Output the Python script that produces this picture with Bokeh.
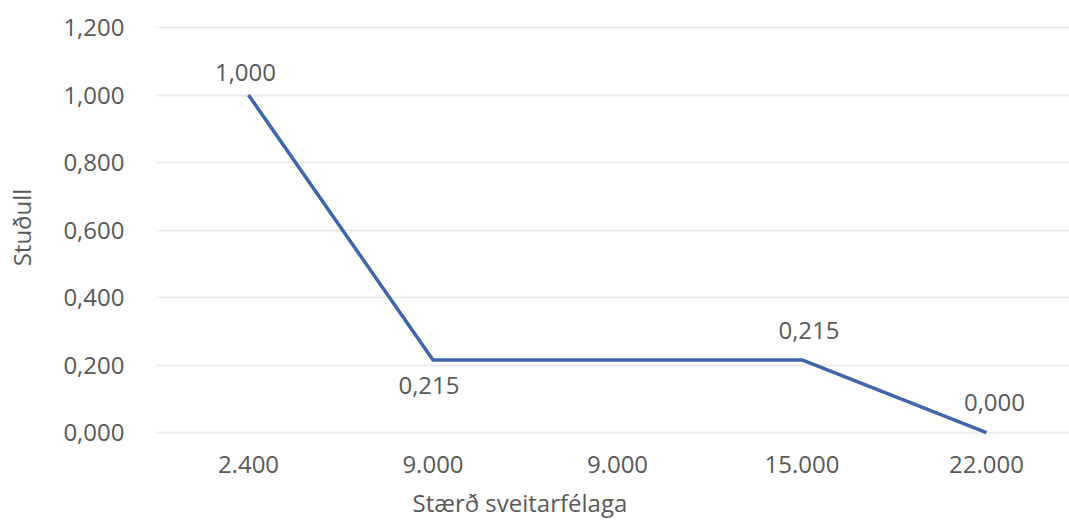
from bokeh.plotting import figure
from bokeh.models import Range1d, FixedTicker, ColumnDataSource, Title
from bokeh.core.properties import value
from bokeh.embed import file_html
from bokeh.resources import INLINE

# ---- data ----
categories = ["2.400", "9.000", "9.000", "15.000", "22.000"]
studull = [1.000, 0.215, 0.215, 0.215, 0.000]
label_text = ["1,000", "0,215", "", "0,215", "0,000"]
y_ticks = [0.0, 0.2, 0.4, 0.6, 0.8, 1.0, 1.2]
y_tick_labels = ["0,000", "0,200", "0,400", "0,600", "0,800", "1,000", "1,200"]
x_title = "Stærð sveitarfélaga"
y_title = "Stuðull"

# label pixel offsets (style)
lab_dx = [-3, -4, 0, 7, 8]
lab_dy = [-23, 26, 0, -29, -30]

FONT = "Open Sans"
FS = "24px"
TXT = "#595959"

xs = list(range(len(categories)))

p = figure(width=1069, height=527, output_backend="svg", toolbar_location=None,
           x_range=Range1d(-0.4986, 4.45), y_range=Range1d(-0.0207, 1.2356),
           min_border_left=156, min_border_right=0, min_border_top=15, min_border_bottom=88)
p.outline_line_color = None
p.background_fill_color = "white"
p.border_fill_color = "white"

p.line(xs, studull, line_color="#3F65AA", line_width=3.5, line_join="round")

src = ColumnDataSource(dict(x=xs, y=studull, t=label_text, dx=lab_dx, dy=lab_dy))
p.text(x="x", y="y", text="t", x_offset="dx", y_offset="dy", source=src,
       text_font=value(FONT), text_font_size=FS, text_color=TXT,
       text_align="center", text_baseline="middle")

# x axis
p.xaxis.ticker = FixedTicker(ticks=xs)
p.xaxis.major_label_overrides = {i: c for i, c in zip(xs, categories)}
p.xaxis.axis_line_color = None
p.xaxis.major_tick_line_color = None
p.xaxis.minor_tick_line_color = None
p.xaxis.major_label_text_font = FONT
p.xaxis.major_label_text_font_size = FS
p.xaxis.major_label_text_color = TXT
p.xaxis.major_label_standoff = 10

# x axis title below tick labels
p.add_layout(Title(text=x_title, align="left", offset=256, standoff=17,
                   text_font=FONT, text_font_size=FS, text_font_style="normal",
                   text_color=TXT), "below")

# y axis
p.yaxis.ticker = FixedTicker(ticks=y_ticks)
p.yaxis.major_label_overrides = {t: l for t, l in zip(y_ticks, y_tick_labels)}
p.yaxis.axis_line_color = None
p.yaxis.major_tick_line_color = None
p.yaxis.minor_tick_line_color = None
p.yaxis.major_label_text_font = FONT
p.yaxis.major_label_text_font_size = FS
p.yaxis.major_label_text_color = TXT
p.yaxis.major_label_standoff = 26
p.yaxis.axis_label = y_title
p.yaxis.axis_label_text_font = FONT
p.yaxis.axis_label_text_font_size = FS
p.yaxis.axis_label_text_font_style = "normal"
p.yaxis.axis_label_text_color = TXT
p.yaxis.axis_label_standoff = 22

p.xgrid.grid_line_color = None
p.ygrid.grid_line_color = "#EBEBEB"
p.ygrid.grid_line_width = 2

open("out.html", "w").write(file_html(p, INLINE))
